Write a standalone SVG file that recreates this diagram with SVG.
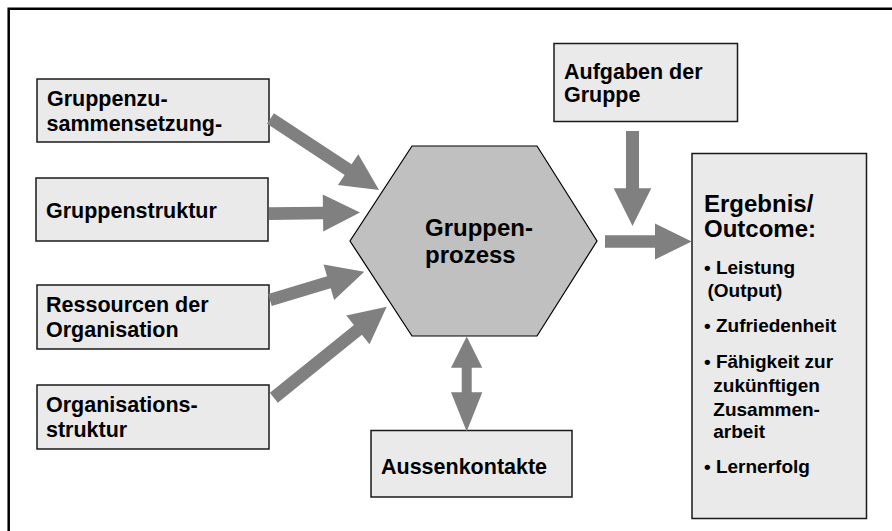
<svg xmlns="http://www.w3.org/2000/svg" width="892" height="531" viewBox="0 0 892 531">
<style>
text{font-family:"Liberation Sans",Arial,sans-serif;font-weight:bold;fill:#000}
.box{fill:#eaeaea;stroke:#1a1a1a;stroke-width:1.5}
.t21{font-size:21.5px}
.t24{font-size:24px}
.t19{font-size:19px}
.arr{fill:#808080}
</style>
<rect width="892" height="531" fill="#fff"/>
<path d="M8.7,531 V8.7 H892" fill="none" stroke="#000" stroke-width="2.5"/>

<g id="n-zusammensetzung">
<rect class="box" x="37" y="79" width="232" height="63"/>
<text class="t21" x="47" y="105.7">Gruppenzu-</text>
<text class="t21" x="46.5" y="131">sammensetzung-</text>
</g>
<g id="n-gruppenstruktur">
<rect class="box" x="36" y="178" width="232" height="63"/>
<text class="t21" x="46" y="217.7">Gruppenstruktur</text>
</g>
<g id="n-ressourcen">
<rect class="box" x="37" y="285" width="232" height="64"/>
<text class="t21" x="46" y="312.3">Ressourcen der</text>
<text class="t21" x="46" y="337.3">Organisation</text>
</g>
<g id="n-organisationsstruktur">
<rect class="box" x="37" y="385" width="232" height="64"/>
<text class="t21" x="46" y="412.3">Organisations-</text>
<text class="t21" x="46" y="437.3">struktur</text>
</g>
<g id="n-aufgaben">
<rect class="box" x="554" y="43.5" width="183.5" height="78"/>
<text class="t21" x="564" y="79.3">Aufgaben der</text>
<text class="t21" x="564" y="101.7">Gruppe</text>
</g>
<g id="n-aussenkontakte">
<rect class="box" x="371" y="430.5" width="201" height="66.5"/>
<text class="t21" x="381" y="474.3">Aussenkontakte</text>
</g>
<g id="n-gruppenprozess">
<polygon points="412,146 537,146 597,241 537,336 412,336 350,241" fill="#c0c0c0" stroke="#000" stroke-width="1.2"/>
<text class="t24" x="425" y="236">Gruppen-</text>
<text class="t24" x="425" y="263.3">prozess</text>
</g>
<g id="n-ergebnis">
<rect class="box" x="692" y="153.5" width="174.5" height="365"/>
<text class="t24" x="704" y="211.7">Ergebnis/</text>
<text class="t24" x="704" y="237.3">Outcome:</text>
<text class="t19" x="704" y="274.3">• Leistung</text>
<text class="t19" x="707.5" y="296.7">(Output)</text>
<text class="t19" x="704" y="332.3">• Zufriedenheit</text>
<text class="t19" x="704" y="367.7">• Fähigkeit zur</text>
<text class="t19" x="713.3" y="391.7">zukünftigen</text>
<text class="t19" x="713.3" y="416">Zusammen-</text>
<text class="t19" x="713.3" y="438.3">arbeit</text>
<text class="t19" x="704" y="472.7">• Lernerfolg</text>
</g>

<g id="connectors" class="arr">
<path transform="translate(379,190) rotate(33.4)" d="M0,0 L-37,-18.5 L-37,-6.3 L-130,-6.3 L-130,6.3 L-37,6.3 L-37,18.5 Z"/>
<path transform="translate(360,212.5) rotate(-0.7)" d="M0,0 L-37,-18.5 L-37,-6.3 L-91,-6.3 L-91,6.3 L-37,6.3 L-37,18.5 Z"/>
<path transform="translate(364.3,271.7) rotate(-16.7)" d="M0,0 L-37,-18.5 L-37,-6.3 L-98.5,-6.3 L-98.5,6.3 L-37,6.3 L-37,18.5 Z"/>
<path transform="translate(386.7,306.7) rotate(-38.9)" d="M0,0 L-37,-18.5 L-37,-6.3 L-145,-6.3 L-145,6.3 L-37,6.3 L-37,18.5 Z"/>
<path transform="translate(632.5,226) rotate(90)" d="M0,0 L-37.7,-18.8 L-37.7,-6.5 L-95,-6.5 L-95,6.5 L-37.7,6.5 L-37.7,18.8 Z"/>
<path transform="translate(691.7,241.5)" d="M0,0 L-36.7,-18 L-36.7,-6.3 L-86.7,-6.3 L-86.7,6.3 L-36.7,6.3 L-36.7,18 Z"/>
<path d="M466.7,336.5 L482.3,367.7 L471.7,367.7 L471.7,392.3 L482.3,392.3 L466.7,431.5 L451,392.3 L461.7,392.3 L461.7,367.7 L451,367.7 Z"/>
</g>
</svg>
